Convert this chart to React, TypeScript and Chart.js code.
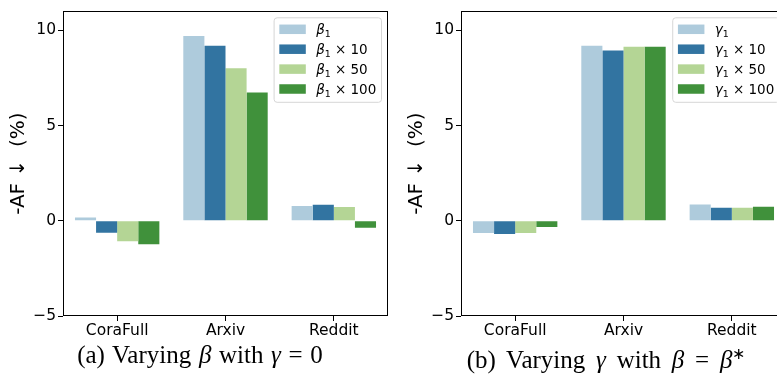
import React, { useEffect, useRef } from 'react';
import { Chart, registerables } from 'chart.js';

Chart.register(...registerables);

// ---- data ----
const categories = ['CoraFull', 'Arxiv', 'Reddit'];

const beta1 = [0.17, 9.7, 0.78];
const beta1x10 = [-0.63, 9.19, 0.84];
const beta1x50 = [-1.08, 8.01, 0.73];
const beta1x100 = [-1.23, 6.73, -0.37];

const gamma1 = [-0.64, 9.19, 0.85];
const gamma1x10 = [-0.69, 8.94, 0.69];
const gamma1x50 = [-0.64, 9.14, 0.69];
const gamma1x100 = [-0.33, 9.14, 0.74];

const multipliers = ['', '10', '50', '100'];
const yTicks = [-5, 0, 5, 10];
const yMin = -5;
const yMax = 11;

const colors = ['#aecbdc', '#3274a1', '#b4d595', '#40913b'];

const FONT = '"DejaVu Sans", sans-serif';

const frameLegendPlugin = {
  id: 'frameLegend',
  afterDraw(chart: any, _args: any, opts: any) {
    const ctx: CanvasRenderingContext2D = chart.ctx;
    const a = chart.chartArea;
    ctx.save();
    // frame (spines)
    ctx.strokeStyle = '#000';
    ctx.lineWidth = 1;
    const l = Math.floor(a.left) + 0.5;
    const t = Math.floor(a.top) + 0.5;
    const r = Math.round(a.right) - 0.5;
    const b = Math.round(a.bottom) - 0.5;
    ctx.strokeRect(l, t, r - l, b - t);

    // legend
    const fs = 13.5;
    const sym = opts.symbol || 'β';
    const mainFont = `${fs}px ${FONT}`;
    const itFont = `oblique ${fs}px ${FONT}`;
    const subFont = `${fs * 0.7}px ${FONT}`;
    const gap = 4.2;
    const ds = chart.data.datasets;
    const widthOf = (mult: string) => {
      ctx.font = itFont;
      let w = ctx.measureText(sym).width;
      ctx.font = subFont;
      w += ctx.measureText('1').width;
      if (mult) {
        ctx.font = mainFont;
        w += gap + ctx.measureText('×').width + gap + ctx.measureText(mult).width;
      }
      return w;
    };
    let maxW = 0;
    ds.forEach((d: any) => {
      maxW = Math.max(maxW, widthOf(d.mult));
    });
    const pad = 5.2;
    const swW = 26.5;
    const swH = 9.5;
    const tPad = 10.4;
    const boxW = pad + swW + tPad + maxW + pad;
    const boxH = 84.5;
    const boxRight = a.right - 6.5;
    const boxLeft = boxRight - boxW;
    const boxTop = a.top + 6.5;
    // box
    const rad = 3;
    ctx.beginPath();
    ctx.moveTo(boxLeft + rad, boxTop);
    ctx.lineTo(boxLeft + boxW - rad, boxTop);
    ctx.quadraticCurveTo(boxLeft + boxW, boxTop, boxLeft + boxW, boxTop + rad);
    ctx.lineTo(boxLeft + boxW, boxTop + boxH - rad);
    ctx.quadraticCurveTo(boxLeft + boxW, boxTop + boxH, boxLeft + boxW - rad, boxTop + boxH);
    ctx.lineTo(boxLeft + rad, boxTop + boxH);
    ctx.quadraticCurveTo(boxLeft, boxTop + boxH, boxLeft, boxTop + boxH - rad);
    ctx.lineTo(boxLeft, boxTop + rad);
    ctx.quadraticCurveTo(boxLeft, boxTop, boxLeft + rad, boxTop);
    ctx.closePath();
    ctx.fillStyle = 'rgba(255,255,255,0.8)';
    ctx.fill();
    ctx.strokeStyle = '#d6d6d6';
    ctx.lineWidth = 1;
    ctx.stroke();

    ds.forEach((d: any, i: number) => {
      const cy = boxTop + 11.5 + i * 19.9;
      ctx.fillStyle = d.backgroundColor;
      ctx.fillRect(boxLeft + pad, cy - swH / 2, swW, swH);
      let x = boxLeft + pad + swW + tPad;
      const base = cy + 4.7;
      ctx.fillStyle = '#000';
      ctx.textBaseline = 'alphabetic';
      ctx.textAlign = 'left';
      ctx.font = itFont;
      ctx.fillText(sym, x, base);
      x += ctx.measureText(sym).width;
      ctx.font = subFont;
      ctx.fillText('1', x, base + 3);
      x += ctx.measureText('1').width;
      if (d.mult) {
        ctx.font = mainFont;
        x += gap;
        ctx.fillText('×', x, base);
        x += ctx.measureText('×').width + gap;
        ctx.fillText(d.mult, x, base);
      }
    });
    ctx.restore();
  },
};

function makeConfig(series: number[][], symbol: string): any {
  const axisGrid = {
    display: true,
    drawOnChartArea: false,
    drawTicks: true,
    tickLength: 5,
    offset: false,
    color: '#000',
    lineWidth: 1,
  };
  return {
    type: 'bar',
    data: {
      labels: categories,
      datasets: series.map((d, i) => ({
        label: symbol + '1' + (multipliers[i] ? ' × ' + multipliers[i] : ''),
        mult: multipliers[i],
        data: d,
        backgroundColor: colors[i],
        borderWidth: 0,
        categoryPercentage: 0.779,
        barPercentage: 1,
      })),
    },
    options: {
      responsive: false,
      animation: false,
      events: [],
      layout: { padding: { top: 4, right: 4, left: 0, bottom: 0 } },
      plugins: {
        legend: { display: false },
        tooltip: { enabled: false },
        frameLegend: { symbol },
      },
      scales: {
        x: {
          grid: axisGrid,
          border: { display: false },
          ticks: {
            color: '#000',
            font: { family: FONT, size: 15.5 },
            padding: 1,
            maxRotation: 0,
            autoSkip: false,
          },
          afterFit: (s: any) => {
            s.height = 29;
          },
        },
        y: {
          min: yMin,
          max: yMax,
          grid: axisGrid,
          border: { display: false },
          afterBuildTicks: (s: any) => {
            s.ticks = yTicks.map((v) => ({ value: v }));
          },
          ticks: {
            color: '#000',
            font: { family: FONT, size: 15.5 },
            padding: 2,
            callback: (v: any) => (v < 0 ? '\u2212' + Math.abs(v) : String(v)),
          },
          title: {
            display: true,
            text: '-AF ↓  (%)',
            color: '#000',
            font: { family: FONT, size: 20 },
            padding: { top: 7, bottom: 0 },
          },
          afterFit: (s: any) => {
            s.width = 63;
          },
        },
      },
    },
    plugins: [frameLegendPlugin],
  };
}

function BarPanel({ series, symbol, left }: { series: number[][]; symbol: string; left: number }) {
  const ref = useRef<HTMLCanvasElement>(null);
  useEffect(() => {
    const chart = new Chart(ref.current as HTMLCanvasElement, makeConfig(series, symbol));
    return () => chart.destroy();
  }, []);
  return (
    <canvas
      ref={ref}
      width={392}
      height={345}
      style={{ position: 'absolute', left, top: 0, width: 392, height: 345 }}
    />
  );
}

const captionStyle: React.CSSProperties = {
  position: 'absolute',
  top: 342,
  width: 400,
  textAlign: 'center',
  fontFamily: '"Liberation Serif", "Times New Roman", serif',
  fontSize: 25,
  lineHeight: '25px',
  color: '#000',
  whiteSpace: 'nowrap',
};

export default function App() {
  return (
    <div
      style={{
        position: 'fixed',
        left: 0,
        top: 0,
        width: 777,
        height: 374,
        overflow: 'hidden',
        background: '#fff',
      }}
    >
      <BarPanel series={[beta1, beta1x10, beta1x50, beta1x100]} symbol="β" left={0} />
      <BarPanel series={[gamma1, gamma1x10, gamma1x50, gamma1x100]} symbol="γ" left={398} />
      <div style={{ ...captionStyle, left: 0, wordSpacing: 1.4 }}>
        (a) Varying <i>β</i> with <i>γ</i> = 0
      </div>
      <div style={{ ...captionStyle, left: 406, wordSpacing: 4.5 }}>
        (b) Varying <i>γ</i> with <i>β</i> = <i>β</i>
        <sup style={{ fontSize: '0.65em', verticalAlign: '0.55em' }}>∗</sup>
      </div>
    </div>
  );
}
